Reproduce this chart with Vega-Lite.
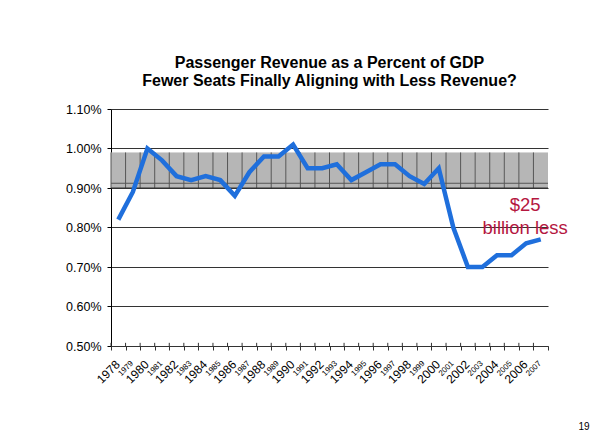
{
  "$schema": "https://vega.github.io/schema/vega-lite/v6.json",
  "width": 437,
  "height": 237,
  "autosize": {"type": "none"},
  "padding": {"left": 111, "top": 109, "right": 46, "bottom": 100},
  "background": "white",
  "config": {"view": {"stroke": null}, "font": "Liberation Sans"},
  "title": {
    "text": ["Passenger Revenue as a Percent of GDP", "Fewer Seats Finally Aligning with Less Revenue?"],
    "fontSize": 16,
    "fontWeight": "bold",
    "font": "Liberation Sans",
    "color": "black",
    "anchor": "middle",
    "lineHeight": 18.5,
    "offset": 14
  },
  "data": {
    "values": [
      {"year": "1978", "v": 0.0082},
      {"year": "1979", "v": 0.0089},
      {"year": "1980", "v": 0.0100},
      {"year": "1981", "v": 0.0097},
      {"year": "1982", "v": 0.0093},
      {"year": "1983", "v": 0.0092},
      {"year": "1984", "v": 0.0093},
      {"year": "1985", "v": 0.0092},
      {"year": "1986", "v": 0.0088},
      {"year": "1987", "v": 0.0094},
      {"year": "1988", "v": 0.0098},
      {"year": "1989", "v": 0.0098},
      {"year": "1990", "v": 0.0101},
      {"year": "1991", "v": 0.0095},
      {"year": "1992", "v": 0.0095},
      {"year": "1993", "v": 0.0096},
      {"year": "1994", "v": 0.0092},
      {"year": "1995", "v": 0.0094},
      {"year": "1996", "v": 0.0096},
      {"year": "1997", "v": 0.0096},
      {"year": "1998", "v": 0.0093},
      {"year": "1999", "v": 0.0091},
      {"year": "2000", "v": 0.0095},
      {"year": "2001", "v": 0.0080},
      {"year": "2002", "v": 0.0070},
      {"year": "2003", "v": 0.0070},
      {"year": "2004", "v": 0.0073},
      {"year": "2005", "v": 0.0073},
      {"year": "2006", "v": 0.0076},
      {"year": "2007", "v": 0.0077}
    ]
  },
  "layer": [
    {
      "mark": {"type": "rect", "fill": "#b6b6b6", "strokeWidth": 0},
      "encoding": {
        "x": {"field": "year", "type": "ordinal", "scale": {"type": "band", "paddingInner": 0, "paddingOuter": 0}},
        "y": {"datum": 0.009, "type": "quantitative"},
        "y2": {"datum": 0.0099}
      }
    },
    {
      "mark": {"type": "rule", "color": "#555555", "strokeWidth": 1},
      "encoding": {
        "x": {"field": "year", "type": "ordinal", "bandPosition": 0},
        "y": {"datum": 0.009, "type": "quantitative"},
        "y2": {"datum": 0.0099}
      }
    },
    {
      "mark": {"type": "rule", "color": "#333333", "strokeWidth": 1},
      "encoding": {
        "x": {"field": "year", "type": "ordinal", "bandPosition": 0},
        "y": {"datum": 0.005, "type": "quantitative"},
        "y2": {"datum": 0.00508}
      }
    },
    {
      "data": {"values": [{}]},
      "mark": {"type": "rule", "color": "#555555", "strokeWidth": 1},
      "encoding": {
        "y": {"datum": 0.00912, "type": "quantitative"}
      }
    },
    {
      "data": {"values": [{}]},
      "mark": {"type": "rule", "color": "#333333", "strokeWidth": 1},
      "encoding": {
        "y": {"datum": 0.009, "type": "quantitative"}
      }
    },
    {
      "mark": {"type": "line", "color": "#1f6fdc", "strokeWidth": 4.5, "strokeJoin": "miter"},
      "encoding": {
        "x": {
          "field": "year",
          "type": "ordinal",
          "axis": {
            "title": "19",
            "titleAnchor": "end",
            "titleAlign": "right",
            "titleBaseline": "alphabetic",
            "titleX": 478,
            "titleY": 83,
            "titleFontSize": 10,
            "titleFontWeight": "normal",
            "titleColor": "black",
            "tickBand": "extent",
            "labelAngle": -45,
            "labelAlign": "right",
            "labelBaseline": "middle",
            "labelFontSize": {"expr": "toNumber(datum.value) % 2 == 0 ? 12 : 8"},
            "labelColor": "black",
            "labelPadding": 12,
            "labelOffset": -1,
            "labelOverlap": false,
            "tickSize": 4,
            "tickColor": "#333333",
            "domainColor": "#333333",
            "grid": false
          }
        },
        "y": {
          "field": "v",
          "type": "quantitative",
          "scale": {"domain": [0.005, 0.011], "nice": false, "zero": false},
          "axis": {
            "title": null,
            "values": [0.005, 0.006, 0.007, 0.008, 0.009, 0.010, 0.011],
            "tickCount": 20,
            "format": ".2%",
            "grid": true,
            "gridColor": "#333333",
            "gridWidth": 1,
            "labelFontSize": 12.5,
            "labelColor": "black",
            "labelPadding": 6,
            "labelOverlap": false,
            "tickSize": 4,
            "tickColor": "#000000",
            "domainColor": "#000000"
          }
        }
      }
    },
    {
      "data": {"values": [{"year": "2006", "v": 0.00842, "label": "$25\nbillion less"}]},
      "mark": {"type": "text", "color": "#b5173f", "fontSize": 18.5, "align": "center", "baseline": "alphabetic", "lineBreak": "\n", "lineHeight": 22.7, "dx": -1},
      "encoding": {
        "x": {"field": "year", "type": "ordinal"},
        "y": {"field": "v", "type": "quantitative"},
        "text": {"field": "label"}
      }
    }
  ]
}
